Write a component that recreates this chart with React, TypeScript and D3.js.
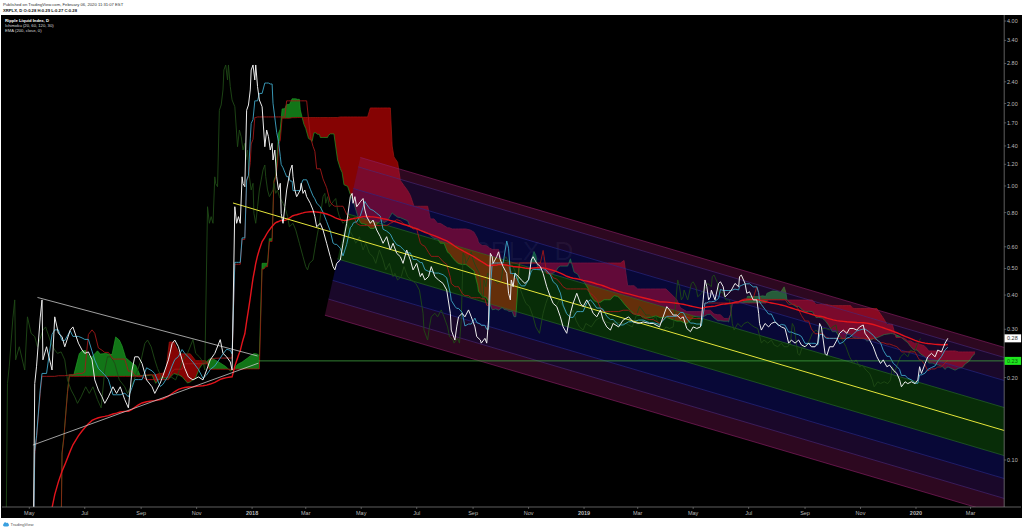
import React from "react";
import * as d3 from "d3";

// ---- price series (days since 2017-05-01, close) ----
const priceDays: number[] = [
  -30, -20, -10, 0, 4, 6, 8, 12, 14, 15, 19, 25, 28, 32, 36, 39, 45, 48, 54, 58, 61, 65, 69, 72, 76, 80, 83, 87, 92, 96,
  100, 105, 109, 113, 116, 120, 124, 129, 135, 138, 144, 147, 153, 157, 160, 164, 168, 171, 175, 180, 186, 191, 195, 199,
  204, 210, 213, 217, 221, 223, 226, 228, 230, 232, 234, 235, 237, 239, 241, 243, 244, 246, 248, 249, 251, 253, 256, 259,
  261, 263, 265, 267, 268, 270, 272, 274, 276, 277, 279, 281, 283, 285, 287, 289, 290, 292, 294, 298, 299, 301, 303, 305,
  309, 312, 314, 316, 320, 323, 327, 331, 334, 336, 338, 342, 345, 349, 353, 355, 356, 358, 360, 364, 367, 369, 371, 375,
  378, 382, 386, 389, 393, 397, 400, 404, 408, 411, 415, 419, 422, 426, 430, 432, 435, 439, 442, 446, 450, 455, 459, 463,
  464, 468, 470, 472, 476, 479, 483, 486, 490, 492, 496, 497, 501, 503, 505, 507, 509, 510, 514, 516, 518, 521, 525, 527,
  529, 530, 532, 534, 538, 541, 545, 549, 552, 554, 558, 562, 565, 569, 573, 576, 580, 584, 587, 591, 595, 598, 602, 606,
  609, 613, 617, 620, 624, 628, 631, 635, 639, 642, 648, 653, 659, 664, 670, 675, 682, 686, 693, 701, 704, 708, 712, 716,
  719, 723, 727, 730, 734, 738, 739, 741, 743, 745, 747, 749, 750, 754, 758, 760, 763, 765, 769, 772, 776, 780, 781, 783,
  787, 789, 792, 796, 800, 802, 803, 805, 809, 813, 816, 820, 824, 827, 831, 835, 838, 842, 846, 849, 853, 857, 860, 864,
  867, 869, 871, 873, 875, 877, 880, 884, 888, 891, 895, 899, 902, 906, 910, 913, 917, 919, 923, 928, 932, 936, 939, 943,
  946, 950, 954, 957, 959, 963, 966, 970, 974, 977, 979, 981, 985, 988, 992, 996, 999, 1003, 1007, 1010,
];
const priceCloses: number[] = [
  0.02, 0.022, 0.025, 0.03, 0.035, 0.19, 0.22, 0.33, 0.384, 0.232, 0.259, 0.213, 0.333, 0.29, 0.282, 0.259, 0.298, 0.306, 0.267, 0.252, 0.245, 0.248, 0.232, 0.196, 0.18, 0.17, 0.161, 0.17, 0.185, 0.175,
  0.185, 0.166, 0.155, 0.213, 0.238, 0.238, 0.225, 0.196, 0.185, 0.175, 0.191, 0.203, 0.232, 0.266, 0.274, 0.259, 0.232, 0.216, 0.201, 0.196, 0.201, 0.196, 0.213, 0.232,
  0.245, 0.275, 0.245, 0.238, 0.228, 0.213, 0.84, 0.731, 0.773, 0.731, 1.08, 1.02, 0.994, 1.89, 1.975, 2.241, 2.651, 2.765, 2.437, 2.765, 2.304, 2.06, 1.947, 1.391,
  1.601, 1.513, 1.353, 1.432, 1.244, 1.353, 1.081, 0.967, 1.023, 0.795, 0.731, 0.84, 0.967, 1.052, 1.144, 1.193, 1.081, 0.967, 0.914, 0.967, 1.023, 0.94, 0.967, 0.914,
  0.865, 0.817, 0.773, 0.71, 0.731, 0.691, 0.618, 0.552, 0.508, 0.494, 0.522, 0.537, 0.618, 0.731, 0.914, 0.94, 0.865, 0.914, 0.84, 0.876, 0.9, 0.817, 0.773, 0.731,
  0.751, 0.691, 0.653, 0.618, 0.653, 0.584, 0.618, 0.568, 0.552, 0.522, 0.584, 0.537, 0.494, 0.522, 0.467, 0.48, 0.454, 0.467, 0.508, 0.467, 0.454, 0.441, 0.417, 0.343,
  0.298, 0.274, 0.306, 0.333, 0.343, 0.333, 0.353, 0.333, 0.306, 0.282, 0.274, 0.267, 0.278, 0.267, 0.324, 0.568, 0.552, 0.522, 0.552, 0.575, 0.537, 0.508, 0.48, 0.406,
  0.384, 0.454, 0.429, 0.48, 0.467, 0.454, 0.441, 0.454, 0.537, 0.552, 0.522, 0.508, 0.48, 0.429, 0.394, 0.373, 0.363, 0.333, 0.306, 0.29, 0.343, 0.373, 0.406, 0.373,
  0.363, 0.384, 0.363, 0.343, 0.333, 0.353, 0.324, 0.306, 0.298, 0.315, 0.306, 0.324, 0.333, 0.319, 0.315, 0.319, 0.315, 0.315, 0.306, 0.363, 0.353, 0.338, 0.338, 0.328,
  0.333, 0.302, 0.294, 0.306, 0.302, 0.306, 0.324, 0.384, 0.454, 0.429, 0.384, 0.394, 0.417, 0.384, 0.441, 0.447, 0.429, 0.394, 0.406, 0.417, 0.441, 0.429, 0.467, 0.473,
  0.441, 0.406, 0.411, 0.384, 0.384, 0.343, 0.315, 0.298, 0.315, 0.306, 0.315, 0.319, 0.311, 0.306, 0.302, 0.267, 0.274, 0.267, 0.274, 0.263, 0.259, 0.267, 0.259, 0.259,
  0.267, 0.315, 0.306, 0.274, 0.245, 0.241, 0.259, 0.259, 0.274, 0.29, 0.298, 0.29, 0.302, 0.302, 0.298, 0.306, 0.311, 0.29, 0.278, 0.259, 0.238, 0.225, 0.232, 0.219,
  0.222, 0.213, 0.207, 0.196, 0.185, 0.193, 0.19, 0.193, 0.19, 0.196, 0.219, 0.207, 0.225, 0.238, 0.245, 0.238, 0.252, 0.248, 0.267, 0.278,
];
// intraday highs of the two big wicks (days since 2017-05-01), estimated from the cloud levels in the picture
const wickDays: number[] = [248, 508];
const wickHighs: number[] = [3.36, 0.78];

// ---- indicator settings ----
const ichimokuParams = { conversion: 20, base: 60, spanB: 120, displacement: 30 };
const emaLength = 200;

// ---- axes ----
const yTickValues = [4, 3.4, 2.8, 2.4, 2, 1.7, 1.4, 1.2, 1, 0.8, 0.6, 0.5, 0.4, 0.3, 0.2, 0.1];
const xTickDates = [
  "2017-05-01", "2017-07-01", "2017-09-01", "2017-11-01", "2018-01-01", "2018-03-01", "2018-05-01", "2018-07-01", "2018-09-01",
  "2018-11-01", "2019-01-01", "2019-03-01", "2019-05-01", "2019-07-01", "2019-09-01", "2019-11-01", "2020-01-01", "2020-03-01",
];
const xTickLabels = ["May", "Jul", "Sep", "Nov", "2018", "Mar", "May", "Jul", "Sep", "Nov", "2019", "Mar", "May", "Jul", "Sep", "Nov", "2020", "Mar"];
const xDomain = ["2017-04-01", "2020-04-07"];
const yDomain = [0.06737, 4.208];

// ---- drawings ----
const triangleUpper: [string, number][] = [["2017-05-10", 0.392], ["2018-01-07", 0.2397]];
const triangleLower: [string, number][] = [["2017-05-05", 0.1134], ["2018-01-08", 0.2257]];
const supportLevel = { from: "2018-01-08", price: 0.23 };
const channelCenter: [string, number][] = [["2017-12-11", 0.867], ["2020-04-05", 0.1287]];
const channelLevels = [2.01, 1.847, 1.522, 1.213, 1, 0.81, 0.668, 0.565, 0.489];
const channelLeftEdge = ["2018-04-30", "2018-03-22"];

const headerLine1 = "Published on TradingView.com, February 06, 2020 11:31:07 EST";
const headerLine2 = "XRPLX, D  O:0.28 H:0.29 L:0.27 C:0.28";
const legendLines = ["Ripple Liquid Index, D", "Ichimoku (20, 60, 120, 30)", "EMA (200, close, 0)"];
const watermark = "XRPLX, D";

export default function App() {
  const W = 1024, H = 530;
  const PL = 2, PR = 1004.2, PT = 15, PB = 507;
  const parse = d3.utcParse("%Y-%m-%d");
  const day0 = Date.UTC(2017, 4, 1);
  const dayDate = (d: number) => new Date(day0 + d * 864e5);

  const x = d3.scaleUtc().domain([parse(xDomain[0])!, parse(xDomain[1])!]).range([PL, PR]);
  const y = d3.scaleLog().domain(yDomain).range([PB, PT]);

  const n = priceDays.length;
  const idx = d3.range(n);

  const midRange = (i: number, len: number) => {
    const d0 = priceDays[i] - len;
    let hi = -Infinity, lo = Infinity;
    for (let j = i; j >= 0 && priceDays[j] > d0; j--) {
      hi = Math.max(hi, priceCloses[j]);
      lo = Math.min(lo, priceCloses[j]);
    }
    wickDays.forEach((wd, w) => {
      if (wd <= priceDays[i] && wd > d0) hi = Math.max(hi, wickHighs[w]);
    });
    return (hi + lo) / 2;
  };
  const conv = idx.map((i) => midRange(i, ichimokuParams.conversion));
  const base = idx.map((i) => midRange(i, ichimokuParams.base));
  const spanA = idx.map((i) => (conv[i] + base[i]) / 2);
  const spanB = idx.map((i) => midRange(i, ichimokuParams.spanB));
  const alpha = 2 / (emaLength + 1);
  let e = priceCloses[0];
  const ema = idx.map((i) => {
    if (i > 0) {
      const k = 1 - Math.pow(1 - alpha, priceDays[i] - priceDays[i - 1]);
      e = e + k * (priceCloses[i] - e);
    }
    return e;
  });

  const px = (i: number) => x(dayDate(priceDays[i]));
  const cx = (i: number) => x(dayDate(priceDays[i] + ichimokuParams.displacement));
  const lx = (i: number) => x(dayDate(priceDays[i] - ichimokuParams.displacement));

  const lineOf = (xf: (i: number) => number, vals: number[]) => d3.line<number>().x(xf).y((i) => y(vals[i]))(idx) || "";

  const priceLine = lineOf(px, priceCloses);
  const convLine = lineOf(px, conv);
  const baseLine = lineOf(px, base);
  const emaLine = lineOf(px, ema);
  const lagLine = lineOf(lx, priceCloses);
  const spanALine = lineOf(cx, spanA);
  const spanBLine = lineOf(cx, spanB);
  const cloudArea = d3.area<number>().x(cx).y0((i) => y(spanB[i])).y1((i) => y(spanA[i]))(idx) || "";
  const bPts = idx.map((i) => [cx(i), y(spanB[i])]);
  const bPath = bPts.map((p) => `L${p[0]},${p[1]}`).join(" ");
  const greenClip = `M${bPts[0][0]},-50 ${bPath} L${bPts[n - 1][0]},-50 Z`;
  const redClip = `M${bPts[0][0]},${H + 50} ${bPath} L${bPts[n - 1][0]},${H + 50} Z`;

  // channel geometry
  const t1 = parse(channelCenter[0][0])!.getTime();
  const t2 = parse(channelCenter[1][0])!.getTime();
  const l1 = Math.log(channelCenter[0][1]);
  const l2 = Math.log(channelCenter[1][1]);
  const mid = (t: number) => Math.exp(l1 + ((l2 - l1) * (t - t1)) / (t2 - t1));
  const tEnd = parse(xDomain[1])!.getTime() + 5 * 864e5;
  const tA = parse(channelLeftEdge[0])!.getTime();
  const tB = parse(channelLeftEdge[1])!.getTime();
  const fTop = Math.log(channelLevels[0]);
  const fBot = Math.log(channelLevels[channelLevels.length - 1]);
  const corner = (f: number) => {
    const s = (fTop - Math.log(f)) / (fTop - fBot);
    const t = tA + s * (tB - tA);
    return [x(new Date(t)), y(mid(t) * f)];
  };
  const rightPt = (f: number) => [x(new Date(tEnd)), y(mid(tEnd) * f)];
  const bandFills = [
    "rgba(150,25,105,0.30)", "rgba(95,30,150,0.28)", "rgba(25,25,170,0.32)", "rgba(25,150,25,0.30)",
    "rgba(25,150,25,0.30)", "rgba(25,25,170,0.32)", "rgba(95,30,150,0.28)", "rgba(150,25,105,0.30)",
  ];
  const bandLines = ["#8a1f66", "#4a2a7a", "#2a2a8a", "#2b6e2b", null, "#2b6e2b", "#2a2a8a", "#4a2a7a", "#8a1f66"];
  const bands = channelLevels.slice(0, -1).map((fa, k) => {
    const fb = channelLevels[k + 1];
    const p = [corner(fa), rightPt(fa), rightPt(fb), corner(fb)];
    return { d: `M${p.map((q) => q.join(",")).join("L")}Z`, fill: bandFills[k] };
  });

  const pt = (p: [string, number]) => [x(parse(p[0])!), y(p[1])];
  const tu = triangleUpper.map(pt);
  const tl = triangleLower.map(pt);
  const yc0 = [x(parse(channelCenter[0][0])!), y(channelCenter[0][1])];
  const yc1 = rightPt(1);

  const font = "'Liberation Sans', Arial, sans-serif";
  const lastClose = priceCloses[n - 1];

  return (
    <svg width={W} height={H} style={{ position: "fixed", left: 0, top: 0, display: "block" }} fontFamily={font}>
      <defs>
        <clipPath id="plot"><rect x={PL} y={PT} width={PR - PL} height={PB - PT} /></clipPath>
        <clipPath id="cg"><path d={greenClip} /></clipPath>
        <clipPath id="cr"><path d={redClip} /></clipPath>
      </defs>
      <rect x={0} y={0} width={W} height={H} fill="#ffffff" />
      <rect x={1} y={PT} width={1021} height={518 - PT} fill="#000000" />
      <text x={3} y={6} fontSize={4.2} fill="#333">{headerLine1}</text>
      <text x={3} y={11.5} fontSize={4.2} fontWeight="bold" fill="#111">{headerLine2}</text>

      <g clipPath="url(#plot)">
        <text x={514} y={260} fontSize={26} textAnchor="middle" fill="#ffffff" fillOpacity={0.07}>{watermark}</text>
        <path d={cloudArea} fill="#14821a" fillOpacity={0.9} clipPath="url(#cg)" />
        <path d={cloudArea} fill="#8c0303" fillOpacity={0.95} clipPath="url(#cr)" />
        <path d={spanALine} fill="none" stroke="#1f9a25" strokeWidth={0.7} />
        <path d={spanBLine} fill="none" stroke="#b01010" strokeWidth={0.7} />
        {bands.map((b, k) => <path key={k} d={b.d} fill={b.fill} />)}
        {channelLevels.map((f, k) => {
          const c = bandLines[k];
          if (!c) return null;
          const a = corner(f), b = rightPt(f);
          return <line key={k} x1={a[0]} y1={a[1]} x2={b[0]} y2={b[1]} stroke={c} strokeWidth={0.8} strokeOpacity={0.8} />;
        })}
        <path d={lagLine} fill="none" stroke="#1f4a16" strokeWidth={0.9} />
        <path d={baseLine} fill="none" stroke="#a01818" strokeWidth={0.9} />
        <path d={convLine} fill="none" stroke="#3ea6c6" strokeWidth={0.9} />
        <path d={emaLine} fill="none" stroke="#e3141c" strokeWidth={1.4} />
        <line x1={tu[0][0]} y1={tu[0][1]} x2={tu[1][0]} y2={tu[1][1]} stroke="#c8c8c8" strokeWidth={0.8} />
        <line x1={tl[0][0]} y1={tl[0][1]} x2={tl[1][0]} y2={tl[1][1]} stroke="#c8c8c8" strokeWidth={0.8} />
        <line x1={x(parse(supportLevel.from)!)} y1={y(supportLevel.price)} x2={PR} y2={y(supportLevel.price)} stroke="#3f9f3f" strokeWidth={0.8} />
        <line x1={yc0[0]} y1={yc0[1]} x2={yc1[0]} y2={yc1[1]} stroke="#e6e63a" strokeWidth={1} />
        <path d={priceLine} fill="none" stroke="#ececec" strokeWidth={1} />
      </g>

      {legendLines.map((t, k) => (
        <text key={k} x={5} y={21.5 + k * 5} fontSize={4.2} fontWeight={k === 0 ? "bold" : "normal"} fill={k === 0 ? "#fff" : "#ddd"}>{t}</text>
      ))}

      <line x1={PR} y1={PT} x2={PR} y2={PB} stroke="#777" strokeWidth={0.8} />
      <line x1={PL} y1={PB} x2={1021} y2={PB} stroke="#777" strokeWidth={0.8} />
      {yTickValues.map((v) => (
        <g key={v}>
          <line x1={PR} x2={PR + 2} y1={y(v)} y2={y(v)} stroke="#888" strokeWidth={0.6} />
          <text x={1007} y={y(v) + 2} fontSize={5.5} fill="#bbb">{v.toFixed(2)}</text>
        </g>
      ))}
      <rect x={PR + 0.4} y={y(lastClose) - 4} width={16.5} height={8} fill="#ffffff" />
      <text x={1007} y={y(lastClose) + 2} fontSize={5.5} fill="#333">{lastClose.toFixed(2)}</text>
      <rect x={PR + 0.4} y={y(supportLevel.price) - 4} width={16.5} height={8} fill="#1ee61e" />
      <text x={1007} y={y(supportLevel.price) + 2} fontSize={5.5} fill="#0b5a0b">{supportLevel.price.toFixed(2)}</text>

      {xTickDates.map((d, k) => (
        <g key={d}>
          <line x1={x(parse(d)!)} x2={x(parse(d)!)} y1={PB} y2={PB + 2} stroke="#888" strokeWidth={0.6} />
          <text x={x(parse(d)!)} y={515} fontSize={5.5} textAnchor="middle" fill="#bbb" fontWeight={/^\d/.test(xTickLabels[k]) ? "bold" : "normal"}>{xTickLabels[k]}</text>
        </g>
      ))}

      <g>
        <ellipse cx={6} cy={525} rx={3} ry={1.6} fill="#3aa0e0" />
        <circle cx={5.2} cy={523.8} r={1.5} fill="#3aa0e0" />
        <circle cx={7.2} cy={524} r={1.2} fill="#3aa0e0" />
        <text x={10.5} y={526.3} fontSize={4.2} fill="#555">TradingView</text>
      </g>
    </svg>
  );
}
